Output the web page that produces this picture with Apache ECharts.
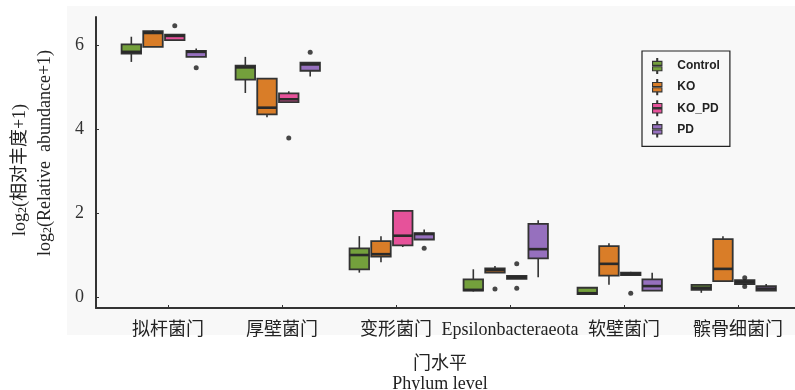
<!DOCTYPE html>
<html>
<head>
<meta charset="utf-8">
<script src="https://cdn.jsdelivr.net/npm/echarts@6/dist/echarts.min.js"></script>
<style>
html,body{margin:0;padding:0;background:#fff;}
#chart{width:795px;height:390px;}
</style>
</head>
<body>
<div id="chart"></div>
<script>
const categories = ['拟杆菌门', '厚壁菌门', '变形菌门', 'Epsilonbacteraeota', '软壁菌门', '髌骨细菌门'];
const groups = ['Control', 'KO', 'KO_PD', 'PD'];
const yTicks = [0, 2, 4, 6];

// [min, Q1, median, Q3, max] per category
const controlBox = [
  [5.60, 5.80, 5.84, 6.02, 6.20],
  [4.86, 5.18, 5.47, 5.51, 5.72],
  [0.58, 0.66, 1.00, 1.16, 1.45],
  [0.13, 0.15, 0.17, 0.42, 0.66],
  [0.07, 0.07, 0.09, 0.22, 0.22],
  [0.10, 0.17, 0.22, 0.29, 0.29]
];
const koBox = [
  [5.96, 5.96, 6.29, 6.33, 6.36],
  [4.28, 4.35, 4.51, 5.20, 5.20],
  [0.83, 0.96, 1.02, 1.33, 1.45],
  [0.58, 0.58, 0.64, 0.68, 0.74],
  [0.29, 0.51, 0.79, 1.21, 1.28],
  [0.38, 0.38, 0.67, 1.38, 1.45]
];
const koPdBox = [
  [6.10, 6.12, 6.22, 6.25, 6.25],
  [4.64, 4.64, 4.71, 4.85, 4.90],
  [1.19, 1.23, 1.46, 2.05, 2.05],
  [0.43, 0.43, 0.47, 0.50, 0.50],
  [0.52, 0.52, 0.55, 0.58, 0.60],
  [0.31, 0.31, 0.36, 0.40, 0.40]
];
const pdBox = [
  [5.72, 5.72, 5.84, 5.86, 5.92],
  [5.25, 5.39, 5.54, 5.58, 5.58],
  [1.37, 1.37, 1.50, 1.52, 1.61],
  [0.47, 0.92, 1.14, 1.74, 1.83],
  [0.15, 0.15, 0.26, 0.42, 0.58],
  [0.15, 0.15, 0.20, 0.26, 0.31]
];

// outliers: [category name, value]
const controlOut = [];
const koOut = [['Epsilonbacteraeota', 0.19]];
const koPdOut = [['拟杆菌门', 6.46], ['厚壁菌门', 3.79], ['Epsilonbacteraeota', 0.79], ['Epsilonbacteraeota', 0.21], ['软壁菌门', 0.09], ['髌骨细菌门', 0.46], ['髌骨细菌门', 0.25]];
const pdOut = [['拟杆菌门', 5.46], ['厚壁菌门', 5.83], ['变形菌门', 1.16]];

const boxes = [controlBox, koBox, koPdBox, pdBox];
const outs = [controlOut, koOut, koPdOut, pdOut];
const colors = ['#74a03c', '#d97d28', '#e6529a', '#9670be'];
const OFFSETS = [-0.322, -0.132, 0.059, 0.247];
const BOX_W = 0.171;
const EDGE = '#333333';

const chart = echarts.init(document.getElementById('chart'), null, {renderer: 'canvas'});

function makeRender(k) {
  return function (params, api) {
    const x = api.value(0) + OFFSETS[k];
    const pMin = api.coord([x, api.value(1)]);
    const pQ1 = api.coord([x, api.value(2)]);
    const pMed = api.coord([x, api.value(3)]);
    const pQ3 = api.coord([x, api.value(4)]);
    const pMax = api.coord([x, api.value(5)]);
    const w = api.size([BOX_W, 0])[0];
    const cx = pMin[0];
    return {
      type: 'group',
      children: [
        {type: 'line', shape: {x1: cx, y1: pMax[1], x2: cx, y2: pMin[1]},
          style: {stroke: EDGE, lineWidth: 1.6}},
        {type: 'rect', shape: {x: cx - w / 2, y: pQ3[1], width: w, height: Math.max(pQ1[1] - pQ3[1], 1)},
          style: {fill: colors[k], stroke: EDGE, lineWidth: 1.8}},
        {type: 'line', shape: {x1: cx - w / 2, y1: pMed[1], x2: cx + w / 2, y2: pMed[1]},
          style: {stroke: '#2a2a2a', lineWidth: 2.6}}
      ]
    };
  };
}

const iconPath = 'path://M4.5,0 L5.5,0 L5.5,3 L4.5,3 Z M0,3 L10,3 L10,7.3 L0,7.3 Z M0,8.7 L10,8.7 L10,13 L0,13 Z M4.5,13 L5.5,13 L5.5,16 L4.5,16 Z';

const series = [];
groups.forEach((g, k) => {
  series.push({
    name: g,
    type: 'custom',
    renderItem: makeRender(k),
    itemStyle: {color: colors[k]},
    encode: {x: 0, y: [1, 2, 3, 4, 5]},
    data: boxes[k].map((b, i) => [i].concat(b)),
    z: 3
  });
});
groups.forEach((g, k) => {
  series.push({
    name: g + ' outliers',
    type: 'scatter',
    symbolSize: 5,
    itemStyle: {color: '#1a1a1a'},
    data: outs[k].map(o => [categories.indexOf(o[0]) + OFFSETS[k], o[1]]),
    z: 4
  });
});

const serif = '"Liberation Serif", "Times New Roman", "Noto Sans CJK SC", serif';

chart.setOption({
  animation: false,
  backgroundColor: '#ffffff',
  grid: {left: 96, right: 0, top: 17, bottom: 82},
  xAxis: {
    type: 'value', min: -0.632, max: 5.5,
    splitLine: {show: false},
    axisLine: {show: true, onZero: false, lineStyle: {color: EDGE, width: 2}},
    axisTick: {show: true, inside: true, length: 3, customValues: [0, 1, 2, 3, 4, 5], lineStyle: {color: EDGE}},
    axisLabel: {customValues: [0, 1, 2, 3, 4, 5], formatter: v => categories[Math.round(v)],
      fontFamily: serif, fontSize: 18, color: '#222', margin: 13}
  },
  yAxis: {
    type: 'value', min: -0.262, max: 6.67,
    splitLine: {show: false},
    axisLine: {show: true, onZero: false, lineStyle: {color: EDGE, width: 2}},
    axisTick: {show: true, inside: true, length: 3, customValues: yTicks, lineStyle: {color: EDGE}},
    axisLabel: {customValues: yTicks, fontFamily: serif, fontSize: 18, color: '#333', margin: 12}
  },
  legend: {
    orient: 'vertical',
    left: 642, top: 51,
    padding: [7, 10, 9, 10],
    borderColor: '#222', borderWidth: 1.2,
    itemWidth: 10, itemHeight: 15, itemGap: 5,
    data: groups.map(g => ({name: g, icon: iconPath})),
    itemStyle: {borderColor: EDGE, borderWidth: 1.1},
    textStyle: {fontFamily: '"Liberation Sans", Arial, sans-serif', fontWeight: 'bold', fontSize: 12, color: '#222', padding: [0, 0, 0, 10], width: 52}
  },
  graphic: [
    {type: 'rect', z: -10, silent: true, shape: {x: 67, y: 6, width: 728, height: 329}, style: {fill: '#f8f8f8'}},
    {type: 'text', x: 440, y: 364, style: {text: '门水平', font: '18px ' + serif, fill: '#222', align: 'center', verticalAlign: 'middle'}},
    {type: 'text', x: 440, y: 384, style: {text: 'Phylum level', font: '18px ' + serif, fill: '#222', align: 'center', verticalAlign: 'middle'}},
    {type: 'text', x: 18, y: 170, rotation: Math.PI / 2,
      style: {text: '{a|log}{s|2}{a|(相对丰度+1)}', align: 'center', verticalAlign: 'middle', fill: '#222',
        rich: {a: {fontFamily: serif, fontSize: 18, lineHeight: 22, verticalAlign: 'bottom', fill: '#222'},
               s: {fontFamily: serif, fontSize: 12, lineHeight: 12, padding: [9, 0, 0, 0], verticalAlign: 'bottom', fill: '#222'}}}},
    {type: 'text', x: 43, y: 153, rotation: Math.PI / 2,
      style: {text: '{a|log}{s|2}{a|(Relative  abundance+1)}', align: 'center', verticalAlign: 'middle', fill: '#222',
        rich: {a: {fontFamily: serif, fontSize: 18, lineHeight: 22, verticalAlign: 'bottom', fill: '#222'},
               s: {fontFamily: serif, fontSize: 12, lineHeight: 12, padding: [9, 0, 0, 0], verticalAlign: 'bottom', fill: '#222'}}}}
  ],
  series: series
});
</script>
</body>
</html>
